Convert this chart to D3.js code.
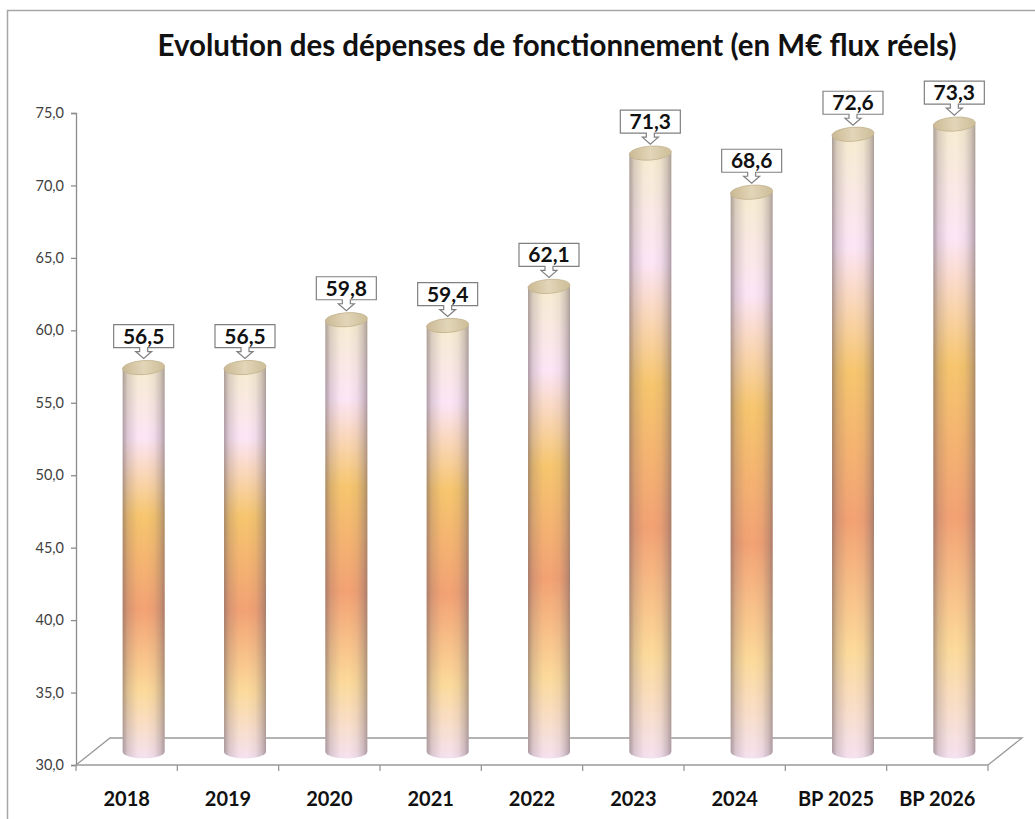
<!DOCTYPE html>
<html>
<head>
<meta charset="utf-8">
<script src="https://cdn.jsdelivr.net/npm/d3@7"></script>
<style>
	body{margin:0;background:#fff;}
	svg text{font-family:Lato, "Open Sans", sans-serif;}
</style>
</head>
<body>
<div id="chart"></div>
<script>
var categories=["2018","2019","2020","2021","2022","2023","2024","BP 2025","BP 2026"];
var values=[56.5,56.5,59.8,59.4,62.1,71.3,68.6,72.6,73.3];
var tickValues=[30,35,40,45,50,55,60,65,70,75];
var title="Evolution des dépenses de fonctionnement (en M€ flux réels)";

var W=1035, H=819;
var left=76, right=988, floorY=765, topY=113;
var depthX=34, depthY=-27; // floor depth (front -> back)
var midX=depthX/2, midY=depthY/2;
var barW=42, ry=7;

var svg=d3.select("#chart").append("svg").attr("width",W).attr("height",H);
var defs=svg.append("defs");

// vertical colour of the cylinders
var vg=defs.append("linearGradient").attr("id","body").attr("x1",0).attr("y1",0).attr("x2",0).attr("y2",1);
[[0,"#f7edd0"],[0.18,"#fde6f7"],[0.38,"#f7c66e"],[0.62,"#f3a274"],[0.83,"#fddb9c"],[1,"#f6e2f1"]]
	.forEach(function(s){vg.append("stop").attr("offset",s[0]).attr("stop-color",s[1]);});
// horizontal shading
var hg=defs.append("linearGradient").attr("id","shade").attr("x1",0).attr("y1",0).attr("x2",1).attr("y2",0);
[[0,0.55],[0.12,0.22],[0.35,0.02],[0.55,0],[0.75,0.08],[0.9,0.3],[1,0.55]]
	.forEach(function(s){hg.append("stop").attr("offset",s[0]).attr("stop-color","#6e5f66").attr("stop-opacity",s[1]);});
var tg=defs.append("linearGradient").attr("id","cap").attr("x1",0).attr("y1",0).attr("x2",1).attr("y2",0);
[[0,"#cbb994"],[0.5,"#e2d6b8"],[1,"#cdbd98"]]
	.forEach(function(s){tg.append("stop").attr("offset",s[0]).attr("stop-color",s[1]);});

// chart frame
svg.append("rect").attr("x",7.5).attr("y",10.5).attr("width",W+10).attr("height",H+10)
	.attr("fill","none").attr("stroke","#a6a6a6").attr("stroke-width",1.5);

svg.append("text").attr("x",557).attr("y",56).attr("text-anchor","middle")
	.attr("font-size",29.5).attr("font-weight","bold").attr("fill","#111").text(title);

var y=d3.scaleLinear().domain([30,75]).range([floorY,topY]);
var x=d3.scaleBand().domain(categories).range([left,right]).padding(0);

// floor
svg.append("path")
	.attr("d","M"+left+","+floorY+" L"+(left+depthX)+","+(floorY+depthY)+" H"+(right+depthX)+" L"+right+","+floorY)
	.attr("fill","none").attr("stroke","#9a9a9a").attr("stroke-width",1.3);

// y axis
var yAxis=svg.append("g").attr("transform","translate("+left+",0)")
	.call(d3.axisLeft(y).tickValues(tickValues).tickSize(5).tickPadding(7)
		.tickFormat(function(d){return d.toFixed(1).replace(".",",");}));
yAxis.selectAll("path,line").attr("stroke","#8c8c8c").attr("stroke-width",1.3);
yAxis.selectAll("text").attr("font-size",14.5).attr("fill","#404040")
	.style("font-family","Lato, sans-serif");

// x axis (front edge)
var xAxis=svg.append("g");
xAxis.append("line").attr("x1",left).attr("x2",right).attr("y1",floorY).attr("y2",floorY)
	.attr("stroke","#9a9a9a").attr("stroke-width",1.3);
xAxis.selectAll("line.tick").data(d3.range(categories.length+1)).enter().append("line")
	.attr("class","tick")
	.attr("x1",function(i){return left+i*x.step();}).attr("x2",function(i){return left+i*x.step();})
	.attr("y1",floorY).attr("y2",floorY+6).attr("stroke","#9a9a9a").attr("stroke-width",1.3);
xAxis.selectAll("text").data(categories).enter().append("text")
	.attr("x",function(d){return x(d)+x.bandwidth()/2;}).attr("y",806)
	.attr("text-anchor","middle").attr("font-size",20).attr("font-weight","bold").attr("fill","#111")
	.text(function(d){return d;});

// cylinders
var bars=svg.selectAll("g.bar").data(values).enter().append("g").attr("class","bar");
function cx(d,i){return x(categories[i])+x.bandwidth()/2+midX;}
function yt(d){return y(d)+midY;}
var yb=y(30)+midY;
function bodyPath(d,i){
	var x0=cx(d,i)-barW/2, x1=cx(d,i)+barW/2;
	return "M"+x0+","+yt(d)+" V"+yb+" A"+(barW/2)+","+ry+" 0 0 0 "+x1+","+yb+" V"+yt(d)+" Z";
}
bars.append("path").attr("d",bodyPath).attr("fill","url(#body)");
bars.append("path").attr("d",bodyPath).attr("fill","url(#shade)");
bars.append("ellipse")
	.attr("cx",cx).attr("cy",yt).attr("rx",barW/2).attr("ry",ry)
	.attr("transform",function(d,i){return "rotate(-4,"+cx(d,i)+","+yt(d)+")";})
	.attr("fill","url(#cap)").attr("stroke","#c2b28e").attr("stroke-width",0.8);

// value callouts
var bw=60, bh=23;
bars.append("path")
	.attr("d",function(d,i){
		var c=cx(d,i), bb=yt(d)-ry-13, bt=bb-bh;
		return "M"+(c-bw/2)+","+bt+" H"+(c+bw/2)+" V"+bb+" H"+(c+4)+" V"+(bb+4)+" H"+(c+8)+
			" L"+c+","+(bb+11)+" L"+(c-8)+","+(bb+4)+" H"+(c-4)+" V"+bb+" H"+(c-bw/2)+" Z";
	})
	.attr("fill","#fff").attr("stroke","#808080").attr("stroke-width",1.2);
bars.append("text")
	.attr("x",cx).attr("y",function(d){return yt(d)-ry-13-4;})
	.attr("text-anchor","middle").attr("font-size",21).attr("font-weight","bold").attr("fill","#111")
	.text(function(d){return d.toFixed(1).replace(".",",");});
</script>
</body>
</html>
